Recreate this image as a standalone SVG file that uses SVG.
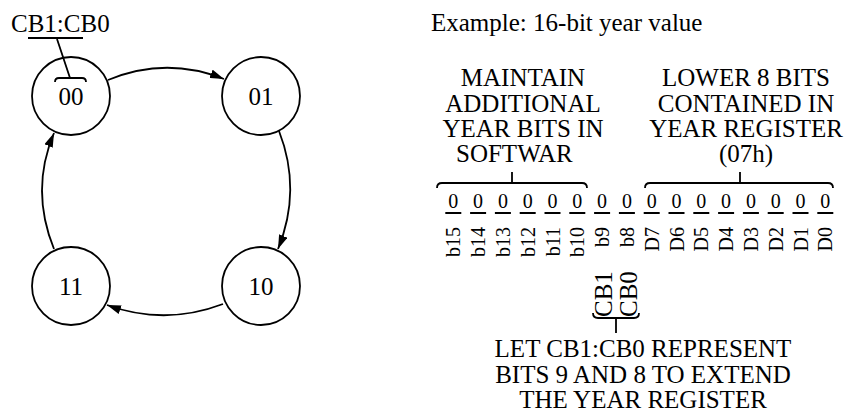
<svg xmlns="http://www.w3.org/2000/svg" width="862" height="412" viewBox="0 0 862 412">
<style>
text{font-family:"Liberation Serif","Times New Roman",serif;fill:#000}
.t{font-size:25px}
.s{font-size:20px}
.c{text-anchor:middle}
.node circle{fill:#fff;stroke:#000;stroke-width:1.8}
.ln{fill:none;stroke:#000;stroke-width:1.8}
.bar{stroke:#000;stroke-width:2}
</style>
<defs>
<marker id="ah" viewBox="0 0 14 9" refX="14" refY="4.5" markerWidth="14" markerHeight="9" markerUnits="userSpaceOnUse" orient="auto">
<path d="M0,0 L14,4.5 L0,9 Z" fill="#000"/>
</marker>
</defs>
<rect width="862" height="412" fill="#fff"/>

<g id="connectors">
<path class="ln" d="M108,80 Q166,56 224,79" marker-end="url(#ah)"/>
<path class="ln" d="M279,131 Q302,190 278,249" marker-end="url(#ah)"/>
<path class="ln" d="M223,304 Q165,326 107,305" marker-end="url(#ah)"/>
<path class="ln" d="M54,249 Q30,190 54,133" marker-end="url(#ah)"/>
</g>

<g id="node-00" class="node"><circle cx="71" cy="96" r="39"/><text class="t c" x="71" y="105">00</text></g>
<g id="node-01" class="node"><circle cx="261" cy="96" r="39"/><text class="t c" x="261" y="105">01</text></g>
<g id="node-10" class="node"><circle cx="261" cy="286" r="39"/><text class="t c" x="261" y="295">10</text></g>
<g id="node-11" class="node"><circle cx="71" cy="286" r="39"/><text class="t c" x="71" y="295">11</text></g>

<g id="cb-label">
<text class="t" x="11" y="32">CB1:CB0</text>
<line class="ln" x1="28" y1="38" x2="83" y2="38"/>
<line class="ln" x1="57" y1="39" x2="70" y2="78"/>
<path class="ln" d="M55,82 Q55,78 59,78 L82,78 Q86,78 86,82"/>
</g>

<text class="t" x="431" y="31">Example: 16-bit year value</text>

<g id="upper-note" class="t c">
<text x="523" y="86">MAINTAIN</text>
<text x="523" y="112">ADDITIONAL</text>
<text x="523" y="137">YEAR BITS IN</text>
<text x="456" y="162" text-anchor="start">SOFTWAR</text>
</g>
<g id="lower-note" class="t c">
<text x="746" y="86">LOWER 8 BITS</text>
<text x="746" y="112">CONTAINED IN</text>
<text x="746" y="137">YEAR REGISTER</text>
<text x="746" y="162">(07h)</text>
</g>

<g id="braces">
<path class="ln" d="M437,188 Q437,183 442,183 L582,183 Q587,183 587,188 M512,183 V172"/>
<path class="ln" d="M645,188 Q645,183 650,183 L828,183 Q833,183 833,188 M740,183 V172"/>
<path class="ln" d="M593,313 Q593,318 598,318 L634,318 Q639,318 639,313 M616,318 V333"/>
</g>

<g id="bits" class="s">
<g class="c">
<text x="453.3" y="208">0</text><text x="478.1" y="208">0</text><text x="502.9" y="208">0</text><text x="527.7" y="208">0</text>
<text x="552.5" y="208">0</text><text x="577.3" y="208">0</text><text x="602.1" y="208">0</text><text x="626.9" y="208">0</text>
<text x="651.7" y="208">0</text><text x="676.5" y="208">0</text><text x="701.3" y="208">0</text><text x="726.1" y="208">0</text>
<text x="750.9" y="208">0</text><text x="775.7" y="208">0</text><text x="800.5" y="208">0</text><text x="825.3" y="208">0</text>
</g>
<g class="bar">
<line x1="445.3" y1="213" x2="461.3" y2="213"/><line x1="470.1" y1="213" x2="486.1" y2="213"/>
<line x1="494.9" y1="213" x2="510.9" y2="213"/><line x1="519.7" y1="213" x2="535.7" y2="213"/>
<line x1="544.5" y1="213" x2="560.5" y2="213"/><line x1="569.3" y1="213" x2="585.3" y2="213"/>
<line x1="594.1" y1="213" x2="610.1" y2="213"/><line x1="618.9" y1="213" x2="634.9" y2="213"/>
<line x1="643.7" y1="213" x2="659.7" y2="213"/><line x1="668.5" y1="213" x2="684.5" y2="213"/>
<line x1="693.3" y1="213" x2="709.3" y2="213"/><line x1="718.1" y1="213" x2="734.1" y2="213"/>
<line x1="742.9" y1="213" x2="758.9" y2="213"/><line x1="767.7" y1="213" x2="783.7" y2="213"/>
<line x1="792.5" y1="213" x2="808.5" y2="213"/><line x1="817.3" y1="213" x2="833.3" y2="213"/>
</g>
<g text-anchor="end">
<text transform="translate(460.3,227) rotate(-90)">b15</text>
<text transform="translate(485.1,227) rotate(-90)">b14</text>
<text transform="translate(509.9,227) rotate(-90)">b13</text>
<text transform="translate(534.7,227) rotate(-90)">b12</text>
<text transform="translate(559.5,227) rotate(-90)">b11</text>
<text transform="translate(584.3,227) rotate(-90)">b10</text>
<text transform="translate(609.1,227) rotate(-90)">b9</text>
<text transform="translate(633.9,227) rotate(-90)">b8</text>
<text transform="translate(658.7,227) rotate(-90)">D7</text>
<text transform="translate(683.5,227) rotate(-90)">D6</text>
<text transform="translate(708.3,227) rotate(-90)">D5</text>
<text transform="translate(733.1,227) rotate(-90)">D4</text>
<text transform="translate(757.9,227) rotate(-90)">D3</text>
<text transform="translate(782.7,227) rotate(-90)">D2</text>
<text transform="translate(807.5,227) rotate(-90)">D1</text>
<text transform="translate(832.3,227) rotate(-90)">D0</text>
</g>
</g>

<g id="cb-vertical" class="t">
<text transform="translate(612,317) rotate(-90)">CB1</text>
<text transform="translate(637,317) rotate(-90)">CB0</text>
</g>

<g id="bottom-note" class="t c">
<text x="643" y="357">LET CB1:CB0 REPRESENT</text>
<text x="643" y="383">BITS 9 AND 8 TO EXTEND</text>
<text x="643" y="408">THE YEAR REGISTER</text>
</g>
</svg>
